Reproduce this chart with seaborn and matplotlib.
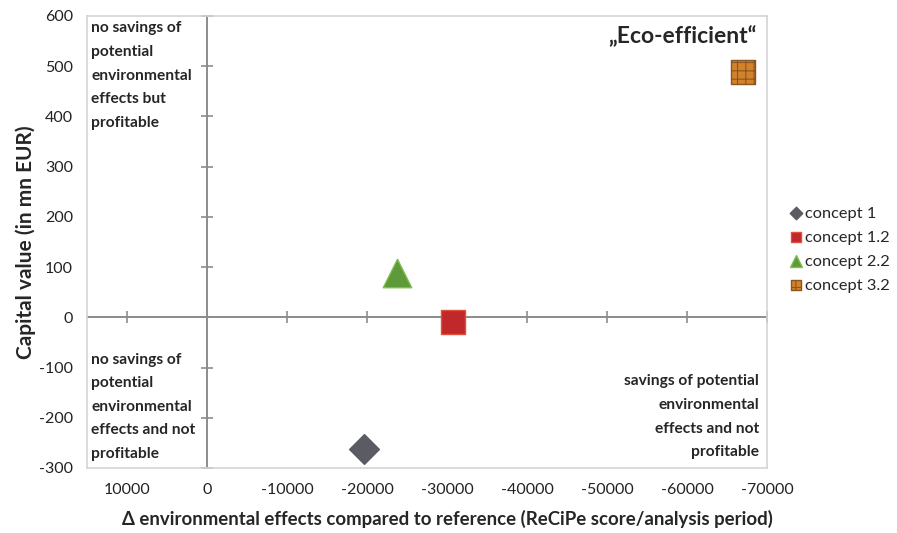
import matplotlib
matplotlib.use("Agg")
import matplotlib.pyplot as plt
import numpy as np
import seaborn as sns

# concepts
concepts = ["concept 1", "concept 1.2", "concept 2.2", "concept 3.2"]
env_effects = [-19600, -30700, -23800, -67000]
capital_value = [-263, -9, 88, 488]

xticks = [10000, 0, -10000, -20000, -30000, -40000, -50000, -60000, -70000]
yticks = [600, 500, 400, 300, 200, 100, 0, -100, -200, -300]

markers = ["D", "s", "^", "s"]
colors = ["#5b5c63", "#c0282a", "#5e9a3a", "#d1822a"]
edges = ["#5b5c63", "#e0503a", "#7fbf50", "#8a5520"]
hatches = [None, None, None, "++"]
sizes = [230, 290, 420, 290]

sns.set_style("white")
plt.rcParams["font.family"] = ["Lato", "DejaVu Sans"]
plt.rcParams["hatch.linewidth"] = 0.8

fig = plt.figure(figsize=(8.97, 5.33), dpi=100)
ax = fig.add_axes([0.097, 0.122, 0.758, 0.848])

# zero lines with small crossing ticks
ax.axhline(0, color="#8c8c8c", lw=1.4, zorder=1)
ax.axvline(0, color="#8c8c8c", lw=1.4, zorder=1)
ax.plot([t for t in xticks if t != 0], [0] * (len(xticks) - 1), ls="none",
        marker="|", ms=9, mew=1.2, color="#8c8c8c", zorder=1)
ax.plot([0] * len(yticks), yticks, ls="none", marker="_", ms=9, mew=1.2,
        color="#8c8c8c", zorder=1, clip_on=False)

for name, x, y, m, c, e, h, s in zip(concepts, env_effects, capital_value,
                                     markers, colors, edges, hatches, sizes):
    kw = dict(hatch=h) if h else {}
    sns.scatterplot(x=[x], y=[y], marker=m, color=c, edgecolor=e, linewidth=1,
                    s=s, label=name, ax=ax, zorder=3, **kw)

ax.set_xlim(15000, -70000)
ax.set_ylim(-300, 600)
ax.set_xticks(xticks)
ax.set_yticks(yticks)
ax.set_xticklabels([str(t) for t in xticks])
ax.set_yticklabels([str(t) for t in yticks])
ax.tick_params(length=0, labelsize=11.5, pad=11, colors="#222222")
ax.tick_params(axis="y", pad=10)
for sp in ax.spines.values():
    sp.set_color("#d4d4d4")
    sp.set_linewidth(1.2)

ax.set_xlabel("\u0394 environmental effects compared to reference (ReCiPe score/analysis period)",
              fontsize=13.4, fontweight="bold")
ax.xaxis.set_label_coords(0.53, -0.093)
ax.set_ylabel("Capital value (in mn EUR)", fontsize=15, fontweight="bold", labelpad=2)

qkw = dict(fontsize=11.2, fontweight="bold", linespacing=1.87, transform=ax.transAxes)
ax.text(0.006, 0.988, "no savings of\npotential\nenvironmental\neffects but\nprofitable",
        ha="left", va="top", **qkw)
ax.text(0.006, 0.255, "no savings of\npotential\nenvironmental\neffects and not\nprofitable",
        ha="left", va="top", **qkw)
ax.text(0.988, 0.207, "savings of potential\nenvironmental\neffects and not\nprofitable",
        ha="right", va="top", multialignment="right", **qkw)
ax.text(0.985, 0.955, "\u201eEco-efficient\u201c", ha="right", va="center",
        fontsize=16.5, fontweight="bold", transform=ax.transAxes)

ax.legend(loc="center left", bbox_to_anchor=(0.862, 0.532), bbox_transform=fig.transFigure,
          frameon=False, fontsize=11.8, markerscale=0.42, handletextpad=0.05,
          labelspacing=0.58, handlelength=1.0)

fig.savefig("out.png", dpi=100)
